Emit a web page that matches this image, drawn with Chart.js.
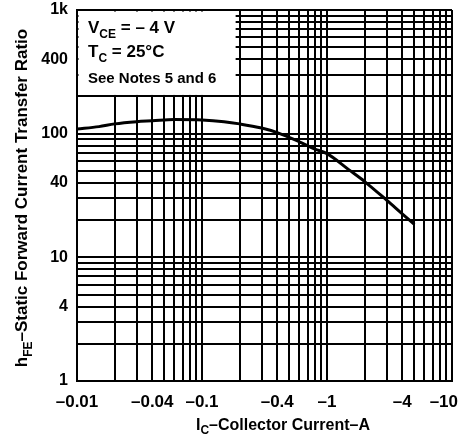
<!DOCTYPE html>
<html><head><meta charset="utf-8">
<script src="https://cdn.jsdelivr.net/npm/chart.js@4/dist/chart.umd.min.js"></script>
<style>html,body{margin:0;padding:0;background:#fff;}#wrap{width:458px;height:441px;}</style>
</head><body><div id="wrap"><canvas id="c" width="458" height="441"></canvas></div>
<script>
// ---- data (|IC| in A, hFE) ----
const collectorCurrentA = [0.01, 0.015, 0.02, 0.03, 0.04, 0.06, 0.1, 0.15, 0.2, 0.3, 0.4, 0.6, 0.8, 1, 1.5, 2, 3, 4, 5];
const hFE =               [109,  114,   120,  125,  127,  130,  129, 125,  120, 111, 102, 86,  75,  69, 51,  41, 29, 22.5, 18.5];

// ---- grid positions and tick labels ----
const xGridValues = [0.01,0.02,0.03,0.04,0.05,0.06,0.07,0.08,0.09,0.1,0.2,0.3,0.4,0.5,0.6,0.7,0.8,0.9,1,2,3,4,5,6,7,8,9,10];
const yGridValues = [1,2,3,4,5,6,7,8,9,10,20,30,40,50,60,70,80,90,100,200,300,400,500,600,700,800,900,1000];
const xTickValues = [0.01, 0.04, 0.1, 0.4, 1, 4, 10];
const xTickLabels = ['\u20130.01', '\u20130.04', '\u20130.1', '\u20130.4', '\u20131', '\u20134', '\u201310'];
const yTickValues = [1, 4, 10, 40, 100, 400, 1000];
const yTickLabels = ['1', '4', '10', '40', '100', '400', '1k'];

const FONT = '"Liberation Sans", Arial, Helvetica, sans-serif';

function matchLabel(v, vals, labels) {
  for (let i = 0; i < vals.length; i++) if (Math.abs(v - vals[i]) / vals[i] < 1e-6) return labels[i];
  return '';
}
function richWidth(ctx, parts, size) {
  let w = 0;
  for (const p of parts) { ctx.font = 'bold ' + (p.sub ? Math.round(size * 0.72) : size) + 'px ' + FONT; w += ctx.measureText(p.t).width; }
  return w;
}
function drawRich(ctx, parts, x, y, size) {
  let cx = x;
  ctx.textAlign = 'left'; ctx.textBaseline = 'alphabetic';
  for (const p of parts) {
    const s = p.sub ? Math.round(size * 0.72) : size;
    ctx.font = 'bold ' + s + 'px ' + FONT;
    ctx.fillText(p.t, cx, y + (p.sub ? size * 0.28 : 0));
    cx += ctx.measureText(p.t).width;
  }
}

const notePlugin = {
  id: 'notes',
  beforeDatasetsDraw(chart) {
    const ctx = chart.ctx, xs = chart.scales.x, ys = chart.scales.y, ca = chart.chartArea;
    const l = ca.left + 1.5, t = ca.top + 1.5;
    const r = xs.getPixelForValue(0.2) - 4;
    const b = ys.getPixelForValue(200) - 1.5;
    ctx.save();
    ctx.fillStyle = '#fff';
    ctx.fillRect(l, t, r - l, b - t);
    ctx.fillStyle = '#000';
    drawRich(ctx, [{t:'V'},{t:'CE',sub:true},{t:' = \u2013 4 V'}], ca.left + 11, ca.top + 23, 17);
    drawRich(ctx, [{t:'T'},{t:'C',sub:true},{t:' = 25\u00b0C'}], ca.left + 11, ca.top + 47, 17);
    drawRich(ctx, [{t:'See Notes 5 and 6'}], ca.left + 11, ca.top + 73, 15);
    ctx.restore();
  },
  afterDraw(chart) {
    const ctx = chart.ctx, xs = chart.scales.x, ca = chart.chartArea;
    ctx.save();
    ctx.fillStyle = '#000';
    ctx.font = 'bold 17px ' + FONT;
    ctx.textBaseline = 'middle';
    ctx.textAlign = 'center';
    xTickValues.forEach((v, i) => {
      let px = xs.getPixelForValue(v);
      const w = ctx.measureText(xTickLabels[i]).width;
      if (px + w / 2 > chart.width) px = chart.width - w / 2;
      ctx.fillText(xTickLabels[i], px, ca.bottom + 21);
    });
    const xParts = [{t:'I'},{t:'C',sub:true},{t:'\u2013Collector Current\u2013A'}];
    const xw = richWidth(ctx, xParts, 16);
    drawRich(ctx, xParts, 283 - xw / 2, ca.bottom + 49, 16);
    const yParts = [{t:'h'},{t:'FE',sub:true},{t:'\u2013Static Forward Current Transfer Ratio'}];
    const yw = richWidth(ctx, yParts, 17);
    ctx.translate(27, 198);
    ctx.rotate(-Math.PI / 2);
    drawRich(ctx, yParts, -yw / 2, 0, 17);
    ctx.restore();
  }
};

new Chart(document.getElementById('c'), {
  type: 'line',
  data: {
    labels: collectorCurrentA,
    datasets: [{
      data: collectorCurrentA.map((x, i) => ({x: x, y: hFE[i]})),
      borderColor: '#000',
      borderWidth: 3,
      pointRadius: 0,
      cubicInterpolationMode: 'monotone',
      fill: false
    }]
  },
  options: {
    responsive: false,
    animation: false,
    devicePixelRatio: 1,
    layout: { padding: { top: 10, right: 6, left: 0, bottom: 0 } },
    plugins: { legend: { display: false }, tooltip: { enabled: false } },
    scales: {
      x: {
        type: 'logarithmic', min: 0.01, max: 10,
        afterBuildTicks(s) { s.ticks = xGridValues.map(v => ({ value: v })); },
        afterFit(s) { s.height = 60; s.paddingLeft = 0; s.paddingRight = 0; },
        ticks: { display: false, autoSkip: false },
        grid: { color: '#000', lineWidth: 2, drawTicks: false },
        border: { display: true, color: '#000', width: 2 }
      },
      y: {
        type: 'logarithmic', min: 1, max: 1000,
        afterBuildTicks(s) { s.ticks = yGridValues.map(v => ({ value: v })); },
        afterFit(s) { s.width = 77; s.paddingTop = 0; s.paddingBottom = 0; },
        ticks: {
          autoSkip: false, padding: 9, color: '#000',
          font: { family: FONT, size: 16, weight: 'bold' },
          callback: (v) => matchLabel(v, yTickValues, yTickLabels)
        },
        grid: { color: '#000', lineWidth: 2, drawTicks: false },
        border: { display: true, color: '#000', width: 2 }
      }
    }
  },
  plugins: [notePlugin]
});
</script></body></html>
